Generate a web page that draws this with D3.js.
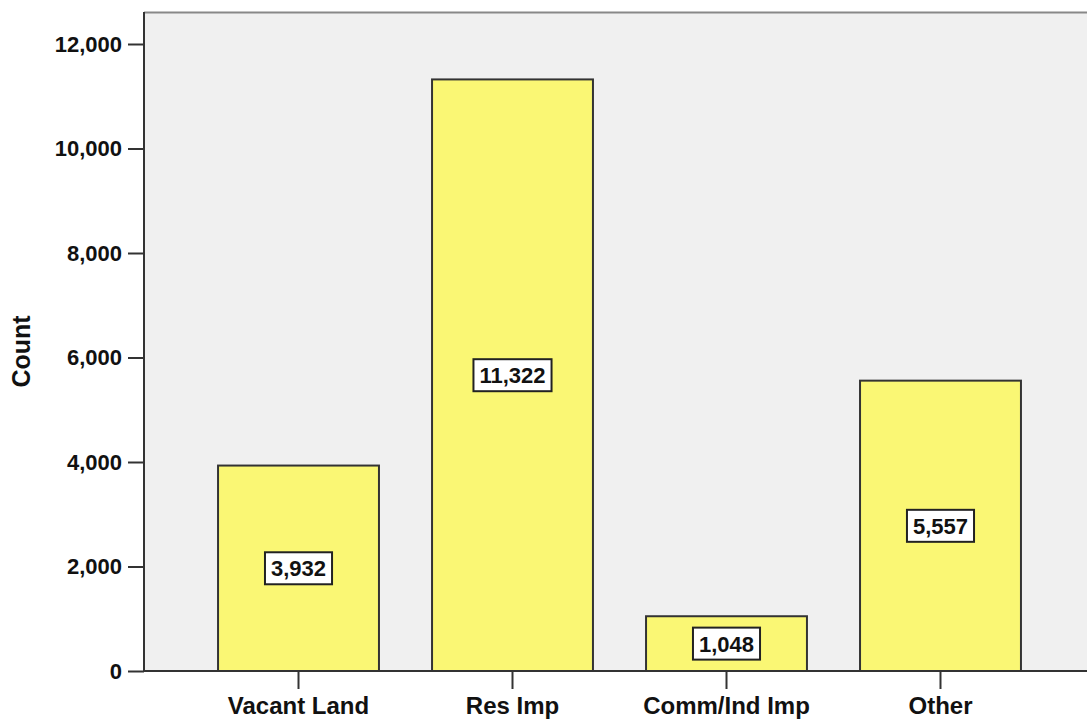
<!DOCTYPE html>
<html><head><meta charset="utf-8">
<script src="https://cdn.jsdelivr.net/npm/d3@7"></script>
<style>body{margin:0;background:#fff;} svg{display:block;} text{font-family:"Liberation Sans",Arial,sans-serif;font-weight:bold;}</style>
</head><body>
<svg id="c" width="1087" height="721"></svg>
<script>
const categories = ["Vacant Land", "Res Imp", "Comm/Ind Imp", "Other"];
const counts = [3932, 11322, 1048, 5557];
const yTicks = [0, 2000, 4000, 6000, 8000, 10000, 12000];
const yTitle = "Count";

(function () {
const svg = d3.select("#c");
const pL = 144, pR = 1095, pT = 12, pB = 671;
const x = d3.scaleBand().domain(categories).range([pL, pR]).paddingInner(0.248).paddingOuter(0.346);
const y = d3.scaleLinear().domain([0, 12000]).range([pB, pB - 6 * 104.5]);
const fmt = d3.format(",");

svg.append("rect").attr("x", pL).attr("y", pT).attr("width", 1200).attr("height", pB - pT)
  .attr("fill", "#f0f0f0");
svg.append("line").attr("x1", pL).attr("x2", 1200).attr("y1", pT + 0.5).attr("y2", pT + 0.5)
  .attr("stroke", "#888").attr("stroke-width", 2);

svg.append("g").selectAll("rect").data(counts).join("rect")
  .attr("x", (d, i) => x(categories[i]))
  .attr("y", d => y(d))
  .attr("width", x.bandwidth())
  .attr("height", d => pB - y(d))
  .attr("fill", "#faf774").attr("stroke", "#333").attr("stroke-width", 2);

const ya = svg.append("g").attr("transform", `translate(${pL},0)`)
  .call(d3.axisLeft(y).tickValues(yTicks).tickFormat(fmt).tickSize(16).tickPadding(6));
ya.select(".domain").attr("d", `M0,${pT}V${pB}`).attr("stroke", "#333").attr("stroke-width", 2);
ya.selectAll(".tick line").attr("stroke", "#333").attr("stroke-width", 2);
ya.selectAll(".tick text").attr("font-size", 22).attr("font-weight", "bold").attr("fill", "#111")
  .attr("font-family", "Liberation Sans, Arial, sans-serif");

const xa = svg.append("g").attr("transform", `translate(0,${pB})`)
  .call(d3.axisBottom(x).tickSize(18).tickPadding(8));
xa.select(".domain").attr("d", `M${pL},0H1200`).attr("stroke", "#333").attr("stroke-width", 2);
xa.selectAll(".tick line").attr("stroke", "#333").attr("stroke-width", 2);
xa.selectAll(".tick text").attr("font-size", 24).attr("font-weight", "bold").attr("fill", "#111")
  .attr("font-family", "Liberation Sans, Arial, sans-serif");

svg.append("text").attr("transform", `translate(30,${(pT + pB) / 2 + 10}) rotate(-90)`)
  .attr("text-anchor", "middle").attr("font-size", 25).attr("fill", "#111").text(yTitle);

const lab = svg.append("g").selectAll("g").data(counts).join("g")
  .attr("transform", (d, i) => `translate(${x(categories[i]) + x.bandwidth() / 2},${(y(d) + pB) / 2})`);
lab.append("text").attr("text-anchor", "middle").attr("dy", "0.36em").attr("font-size", 22)
  .attr("fill", "#111").text(d => fmt(d));
lab.each(function () {
  const g = d3.select(this);
  const bb = g.select("text").node().getBBox();
  g.insert("rect", "text").attr("x", bb.x - 6).attr("y", -16).attr("width", bb.width + 12).attr("height", 32)
    .attr("fill", "#fff").attr("stroke", "#222").attr("stroke-width", 2);
});
})();
</script>
</body></html>
